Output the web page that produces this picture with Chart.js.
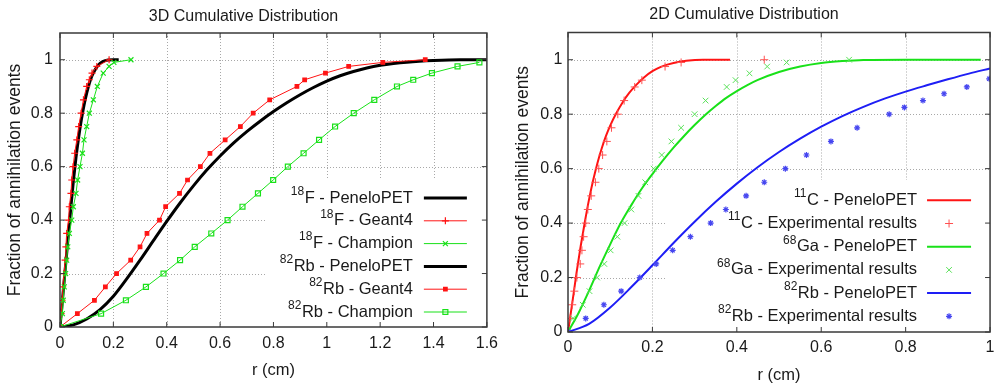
<!DOCTYPE html>
<html>
<head>
<meta charset="utf-8">
<script src="https://cdn.jsdelivr.net/npm/chart.js@4.4.1/dist/chart.umd.min.js"></script>
<style>
  html, body { margin: 0; padding: 0; background: #fff; overflow: hidden; width: 994px; height: 388px; }
  canvas { position: absolute; top: 0; }
  #c3d { left: 0; }
  #c2d { left: 497px; }
</style>
</head>
<body>
<canvas id="c3d" width="505" height="388"></canvas>
<canvas id="c2d" width="503" height="388"></canvas>
<script>
// ---------------- 3D panel data ----------------
const title3D = '3D Cumulative Distribution';
const xTicks3D = ['0', '0.2', '0.4', '0.6', '0.8', '1', '1.2', '1.4', '1.6'];
const yTicks = ['0', '0.2', '0.4', '0.6', '0.8', '1'];

const f18PenR = [0, 0.01, 0.02, 0.03, 0.04, 0.05, 0.06, 0.07, 0.08, 0.09, 0.10, 0.11, 0.12, 0.13, 0.14, 0.15, 0.16, 0.18, 0.20, 0.22];
const f18PenY = [0, 0.11, 0.22, 0.33, 0.44, 0.545, 0.635, 0.71, 0.775, 0.83, 0.875, 0.912, 0.94, 0.96, 0.975, 0.986, 0.993, 0.999, 1, 1];

const f18G4R = [0, 0.004, 0.008, 0.01, 0.015, 0.019, 0.022, 0.025, 0.032, 0.035, 0.041, 0.044, 0.049, 0.055, 0.063, 0.07, 0.079, 0.088, 0.1, 0.11, 0.12, 0.138, 0.184];
const f18G4Y = [0, 0.05, 0.1, 0.15, 0.2, 0.25, 0.3, 0.35, 0.4, 0.45, 0.5, 0.55, 0.6, 0.65, 0.7, 0.75, 0.8, 0.85, 0.9, 0.925, 0.95, 0.975, 1.0];

const f18ChR = [0, 0.009, 0.012, 0.016, 0.021, 0.025, 0.029, 0.035, 0.044, 0.05, 0.06, 0.066, 0.075, 0.084, 0.09, 0.1, 0.11, 0.125, 0.14, 0.162, 0.184, 0.202, 0.266];
const f18ChY = [0, 0.05, 0.1, 0.15, 0.2, 0.25, 0.3, 0.35, 0.4, 0.45, 0.5, 0.55, 0.6, 0.65, 0.7, 0.75, 0.8, 0.85, 0.9, 0.95, 0.975, 0.99, 1.0];

const rbPenR = [0, 0.05, 0.1, 0.15, 0.2, 0.25, 0.3, 0.35, 0.4, 0.45, 0.5, 0.55, 0.6, 0.65, 0.7, 0.75, 0.8, 0.85, 0.9, 0.95, 1.0, 1.05, 1.1, 1.15, 1.2, 1.25, 1.3, 1.4, 1.5, 1.6];
const rbPenY = [0, 0.008, 0.03, 0.065, 0.115, 0.18, 0.25, 0.323, 0.395, 0.464, 0.528, 0.587, 0.64, 0.688, 0.731, 0.77, 0.806, 0.839, 0.869, 0.896, 0.92, 0.94, 0.956, 0.969, 0.979, 0.986, 0.991, 0.997, 1, 1];

const rbG4R = [0, 0.065, 0.129, 0.17, 0.212, 0.265, 0.30, 0.326, 0.373, 0.396, 0.448, 0.478, 0.526, 0.562, 0.619, 0.676, 0.724, 0.786, 0.888, 0.917, 0.995, 1.082, 1.21, 1.369];
const rbG4Y = [0, 0.05, 0.1, 0.15, 0.2, 0.25, 0.3, 0.35, 0.4, 0.45, 0.5, 0.55, 0.6, 0.65, 0.7, 0.75, 0.8, 0.85, 0.9, 0.925, 0.95, 0.975, 0.99, 1.0];

const rbChR = [0, 0.154, 0.247, 0.322, 0.388, 0.45, 0.505, 0.567, 0.628, 0.684, 0.742, 0.799, 0.854, 0.913, 0.971, 1.031, 1.101, 1.178, 1.263, 1.324, 1.394, 1.49, 1.572];
const rbChY = [0, 0.05, 0.1, 0.15, 0.2, 0.25, 0.3, 0.35, 0.4, 0.45, 0.5, 0.55, 0.6, 0.65, 0.7, 0.75, 0.8, 0.85, 0.9, 0.925, 0.95, 0.975, 0.99];

// ---------------- 2D panel data ----------------
const title2D = '2D Cumulative Distribution';
const xTicks2D = ['0', '0.2', '0.4', '0.6', '0.8', '1'];

const c11PenR = [0, 0.01, 0.02, 0.03, 0.04, 0.05, 0.06, 0.07, 0.08, 0.09, 0.1, 0.115, 0.13, 0.145, 0.16, 0.18, 0.2, 0.22, 0.25, 0.28, 0.32, 0.384];
const c11PenY = [0, 0.105, 0.215, 0.315, 0.405, 0.488, 0.56, 0.622, 0.675, 0.72, 0.758, 0.805, 0.845, 0.878, 0.905, 0.935, 0.958, 0.974, 0.988, 0.996, 1, 1];

const c11ExpR = [0, 0.005, 0.01, 0.015, 0.021, 0.029, 0.033, 0.037, 0.042, 0.047, 0.055, 0.065, 0.073, 0.082, 0.092, 0.103, 0.118, 0.133, 0.158, 0.175, 0.23, 0.268, 0.465];
const c11ExpY = [0, 0.05, 0.1, 0.15, 0.2, 0.25, 0.3, 0.35, 0.4, 0.45, 0.5, 0.55, 0.6, 0.65, 0.7, 0.75, 0.8, 0.85, 0.9, 0.925, 0.975, 0.99, 1.0];

const ga68PenR = [0, 0.025, 0.05, 0.075, 0.1, 0.125, 0.15, 0.175, 0.2, 0.225, 0.25, 0.275, 0.3, 0.325, 0.35, 0.375, 0.4, 0.425, 0.45, 0.5, 0.55, 0.6, 0.65, 0.7, 0.8, 0.9, 0.978];
const ga68PenY = [0, 0.07, 0.152, 0.24, 0.322, 0.4, 0.466, 0.527, 0.58, 0.63, 0.677, 0.72, 0.76, 0.797, 0.83, 0.86, 0.885, 0.907, 0.926, 0.955, 0.975, 0.988, 0.995, 0.999, 1, 1, 1];

const ga68ExpR = [0, 0.012, 0.035, 0.051, 0.069, 0.086, 0.101, 0.117, 0.134, 0.15, 0.167, 0.183, 0.203, 0.222, 0.245, 0.268, 0.3, 0.326, 0.376, 0.397, 0.43, 0.472, 0.518, 0.666];
const ga68ExpY = [0, 0.05, 0.1, 0.15, 0.2, 0.25, 0.3, 0.35, 0.4, 0.45, 0.5, 0.55, 0.6, 0.65, 0.7, 0.75, 0.8, 0.85, 0.9, 0.925, 0.95, 0.975, 0.99, 1.0];

const rb82PenR = [0, 0.05, 0.1, 0.15, 0.2, 0.25, 0.3, 0.35, 0.4, 0.45, 0.5, 0.55, 0.6, 0.65, 0.7, 0.75, 0.8, 0.85, 0.9, 0.95, 1.0];
const rb82PenY = [0, 0.03, 0.09, 0.165, 0.245, 0.327, 0.405, 0.478, 0.545, 0.606, 0.661, 0.71, 0.754, 0.793, 0.827, 0.857, 0.883, 0.906, 0.928, 0.949, 0.968];

const rb82ExpR = [0, 0.042, 0.085, 0.126, 0.17, 0.209, 0.248, 0.29, 0.338, 0.374, 0.422, 0.465, 0.515, 0.565, 0.623, 0.685, 0.761, 0.797, 0.841, 0.891, 0.945, 0.998];
const rb82ExpY = [0, 0.05, 0.1, 0.15, 0.2, 0.25, 0.3, 0.35, 0.4, 0.45, 0.5, 0.55, 0.6, 0.65, 0.7, 0.75, 0.8, 0.825, 0.85, 0.875, 0.9, 0.93];

const xTitle = 'r (cm)';
const yTitle = 'Fraction of annihilation events';

// ---------------- helpers ----------------
const FONT = '"Liberation Sans", Arial, Helvetica, sans-serif';
const TEXT = '#1a1a1a';
Chart.defaults.font.family = FONT;
Chart.defaults.color = TEXT;

const pts = (xs, ys) => xs.map((v, i) => ({ x: v, y: ys[i] }));

const RED = 'rgb(255,20,20)';
const GREEN = 'rgb(25,225,25)';
const BLUE = 'rgb(30,30,245)';

function curve(label, xs, ys, color, width) {
  return { label, data: pts(xs, ys), showLine: true, borderColor: color, backgroundColor: color,
           borderWidth: width, pointRadius: 0, cubicInterpolationMode: 'monotone' };
}
function linePts(label, xs, ys, color, style, radius, fill) {
  return { label, data: pts(xs, ys), showLine: true, borderColor: color, backgroundColor: fill,
           borderWidth: 1, tension: 0, pointStyle: style, pointRadius: radius,
           pointBorderWidth: 1.2, pointBorderColor: color, pointBackgroundColor: fill };
}
function dots(label, xs, ys, color, style, radius, bw) {
  return { label, data: pts(xs, ys), showLine: false, borderColor: color, backgroundColor: color,
           pointStyle: style, pointRadius: radius, pointBorderWidth: bw,
           pointBorderColor: color, pointBackgroundColor: color };
}

// grid, frame, inward ticks and key (gnuplot style)
const gnuplotDecor = {
  id: 'gnuplotDecor',
  beforeDatasetsDraw(chart, args, o) {
    const { ctx, chartArea: a, scales: { x, y } } = chart;
    const kLeft = a.left + o.keyLeft, kTop = o.keyTop;
    ctx.save();
    ctx.strokeStyle = '#a8a8a8';
    ctx.lineWidth = 1;
    ctx.setLineDash([1, 2]);
    ctx.beginPath();
    y.ticks.forEach(t => {
      if (t.value <= 0) return;
      const py = Math.round(y.getPixelForValue(t.value)) + 0.5;
      const xe = py > kTop ? kLeft : a.right;
      ctx.moveTo(a.left, py); ctx.lineTo(xe, py);
    });
    x.ticks.forEach(t => {
      const px = Math.round(x.getPixelForValue(t.value)) + 0.5;
      if (px <= a.left + 2 || px >= a.right - 2) return;
      const ye = px > kLeft ? kTop : a.bottom;
      ctx.moveTo(px, a.top); ctx.lineTo(px, ye);
    });
    ctx.stroke();
    ctx.restore();
  },
  afterDatasetsDraw(chart, args, o) {
    const { ctx, chartArea: a, scales: { x, y } } = chart;
    ctx.save();
    // frame
    ctx.strokeStyle = '#3a3a3a';
    ctx.lineWidth = 1.5;
    ctx.strokeRect(a.left, a.top, a.right - a.left, a.bottom - a.top);
    // inward ticks on all sides
    const tl = 5;
    ctx.lineWidth = 1;
    ctx.beginPath();
    y.ticks.forEach(t => {
      const py = y.getPixelForValue(t.value);
      ctx.moveTo(a.left, py); ctx.lineTo(a.left + tl, py);
      ctx.moveTo(a.right, py); ctx.lineTo(a.right - tl, py);
    });
    x.ticks.forEach(t => {
      const px = x.getPixelForValue(t.value);
      ctx.moveTo(px, a.bottom); ctx.lineTo(px, a.bottom - tl);
      ctx.moveTo(px, a.top); ctx.lineTo(px, a.top + tl);
    });
    ctx.stroke();

    // key
    const ds = chart.data.datasets;
    const n = ds.length;
    const xr = a.right - o.textRight;
    const l1 = a.right - o.lineFrom, l2 = a.right - o.lineTo;
    ds.forEach((d, i) => {
      const cy = a.bottom - o.keyBottom - (n - 1 - i) * o.keyStep;
      const m = /^(\d+)(.*)$/.exec(d.label);
      ctx.fillStyle = TEXT;
      ctx.textBaseline = 'middle';
      ctx.textAlign = 'left';
      ctx.font = o.fontSize + 'px ' + FONT;
      const restW = ctx.measureText(m[2]).width;
      ctx.fillText(m[2], xr - restW, cy);
      ctx.font = o.supSize + 'px ' + FONT;
      const supW = ctx.measureText(m[1]).width;
      ctx.fillText(m[1], xr - restW - supW - 0.5, cy - 6.5);
      if (d.showLine) {
        ctx.strokeStyle = d.borderColor;
        ctx.lineWidth = d.borderWidth;
        ctx.beginPath();
        ctx.moveTo(l1, cy); ctx.lineTo(l2, cy);
        ctx.stroke();
      }
      if (d.pointRadius > 0) {
        ctx.strokeStyle = d.pointBorderColor;
        ctx.fillStyle = d.pointBackgroundColor;
        ctx.lineWidth = d.pointBorderWidth;
        Chart.helpers.drawPoint(ctx, { pointStyle: d.pointStyle, radius: d.pointRadius, rotation: 0,
                                       borderWidth: d.pointBorderWidth }, (l1 + l2) / 2, cy);
      }
    });
    ctx.restore();
  }
};

function makeChart(id, datasets, xMax, xLabels, title, L) {
  datasets.forEach((d, i) => { d.order = datasets.length - i; });
  return new Chart(document.getElementById(id), {
    type: 'scatter',
    data: { datasets },
    plugins: [gnuplotDecor],
    options: {
      responsive: false,
      animation: false,
      devicePixelRatio: 1,
      events: [],
      layout: { padding: { left: 0, right: L.padRight, top: 0, bottom: 0 } },
      plugins: {
        legend: { display: false },
        tooltip: { enabled: false },
        title: { display: true, text: title, font: { size: 16, weight: 'normal' }, color: TEXT,
                 padding: { top: L.titleTop, bottom: L.titleBottom } },
        gnuplotDecor: L.key
      },
      scales: {
        x: {
          type: 'linear', min: 0, max: xMax,
          grid: { display: false, drawTicks: false },
          border: { display: false },
          ticks: { stepSize: 0.2, includeBounds: false, padding: L.xTickPad, maxRotation: 0,
                   font: { size: 16 }, color: TEXT,
                   callback: (v, i) => xLabels[i] },
          title: { display: true, text: xTitle, font: { size: 16.5 }, color: TEXT,
                   padding: { top: 0, bottom: L.xTitlePad } },
          afterFit: s => { s.height = L.xHeight; }
        },
        y: {
          type: 'linear', min: 0, max: 1.1,
          grid: { display: false, drawTicks: false },
          border: { display: false },
          ticks: { stepSize: 0.2, includeBounds: false, padding: L.yTickPad,
                   font: { size: 16 }, color: TEXT,
                   callback: (v, i) => yTicks[i] },
          title: { display: true, text: yTitle, font: { size: 17.5 }, color: TEXT,
                   padding: { top: L.yTitlePad, bottom: 0 } },
          afterFit: s => { s.width = L.yWidth; }
        }
      }
    }
  });
}

makeChart('c3d', [
  curve('18F - PeneloPET', f18PenR, f18PenY, '#000', 3),
  linePts('18F - Geant4', f18G4R, f18G4Y, RED, 'cross', 3.5, RED),
  linePts('18F - Champion', f18ChR, f18ChY, GREEN, 'crossRot', 3.5, GREEN),
  curve('82Rb - PeneloPET', rbPenR, rbPenY, '#000', 3),
  linePts('82Rb - Geant4', rbG4R, rbG4Y, RED, 'rect', 2.5, RED),
  linePts('82Rb - Champion', rbChR, rbChY, GREEN, 'rect', 3.5, 'rgba(0,0,0,0)')
], 1.6, xTicks3D, title3D, {
  padRight: 18, titleTop: 7, titleBottom: 6.8, xTickPad: 7, xTitlePad: 8, xHeight: 61,
  yTickPad: 7, yTitlePad: 4.5, yWidth: 60,
  key: { keyLeft: 205, keyTop: 180, textRight: 74, lineFrom: 63, lineTo: 20,
         keyBottom: 15, keyStep: 22.8, fontSize: 16.5, supSize: 12 }
});

makeChart('c2d', [
  curve('11C - PeneloPET', c11PenR, c11PenY, RED, 2),
  dots('11C - Experimental results', c11ExpR, c11ExpY, 'rgb(255,80,80)', 'cross', 4, 1),
  curve('68Ga - PeneloPET', ga68PenR, ga68PenY, GREEN, 2),
  dots('68Ga - Experimental results', ga68ExpR, ga68ExpY, 'rgb(90,225,90)', 'crossRot', 4, 1),
  curve('82Rb - PeneloPET', rb82PenR, rb82PenY, BLUE, 2),
  dots('82Rb - Experimental results', rb82ExpR, rb82ExpY, 'rgb(70,70,240)', 'star', 3, 1.2)
], 1, xTicks2D, title2D, {
  padRight: 9, titleTop: 4.5, titleBottom: 8.8, xTickPad: 5.5, xTitlePad: 3, xHeight: 56,
  yTickPad: 5.5, yTitlePad: 15.5, yWidth: 71,
  key: { keyLeft: 97, keyTop: 180, textRight: 73, lineFrom: 63, lineTo: 19,
         keyBottom: 15.7, keyStep: 23.2, fontSize: 16.5, supSize: 12 }
});
</script>
</body>
</html>
